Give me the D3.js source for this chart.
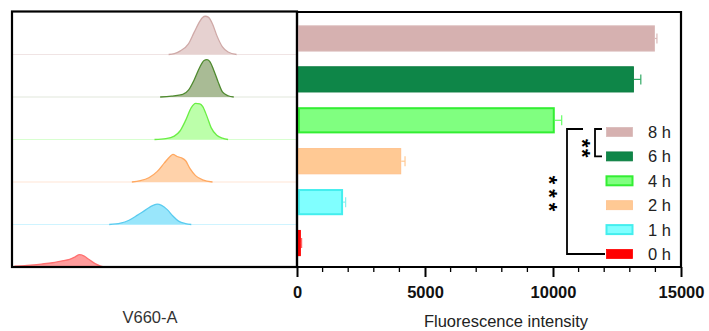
<!DOCTYPE html>
<html>
<head>
<meta charset="utf-8">
<script src="https://cdn.jsdelivr.net/npm/d3@7"></script>
<style>
  body { margin: 0; background: #fff; }
  svg { font-family: "Liberation Sans", Arial, sans-serif; }
</style>
</head>
<body>
<svg id="chart" width="709" height="331"></svg>
<script>
// time points, top to bottom
var groups = ["8 h", "6 h", "4 h", "2 h", "1 h", "0 h"];
var intensity = [13980, 13160, 10070, 4070, 1800, 150];
var errors = [80, 270, 270, 150, 100, 30];
var xTicks = [0, 5000, 10000, 15000];

// histogram outlines (channel units 0-100, height as % of row)
var hist8 = [[55,0],[57,2],[59,8],[62,25],[64,52],[66,78],[67,87],[68,90],[69,88],[70.5,72],[72,45],[74,18],[76,6],[79,0]];
var hist6 = [[52,0],[56,2],[60,6],[62,16],[64,40],[66,70],[67.5,86],[68.5,88],[69.5,84],[71,62],[72.5,35],[74,12],[76,3],[78,0]];
var hist4 = [[50,0],[54,2],[57,8],[59,20],[61,45],[63,75],[64.5,85],[66,84],[67,78],[68.5,55],[70,28],[72,10],[74,3],[76,0]];
var hist2 = [[42,0],[45,3],[48,10],[51,25],[53.5,45],[55.5,60],[56.5,65],[58,60],[59.5,57],[61,50],[62.5,32],[64.5,15],[67,5],[70.5,0]];
var hist1 = [[34,0],[38,3],[41,10],[44,22],[47,35],[49.5,45],[51,48],[52.5,45],[54.5,35],[56.5,20],[58.5,8],[61,2],[63,0]];
var hist0 = [[0.5,2],[5,4],[10,7],[14,10],[17,14],[20,18],[22,24],[23.5,29],[25,26],[27,17],[29,8],[31,2],[32,0]];
var histograms = [hist8, hist6, hist4, hist2, hist1, hist0];

var barFill   = ["#d6b1b0", "#0e8648", "#80ff80", "#ffc994", "#80ffff", "#ff0000"];
var barStroke = ["#d9b9b8", "#0b7c40", "#33ee33", "#ffc08a", "#44eeee", "#ff0000"];
var errColor  = ["#d9b9b8", "#33aa66", "#66ff66", "#ffc994", "#88f0f0", "#ff6666"];
var histFill  = ["#e6d1d0", "#a9bb95", "#bcffaa", "#ffd2aa", "#99e6fb", "#ff9c9c"];
var histLine  = ["#cfa9a7", "#4f8a2f", "#6aee44", "#ffa860", "#5acbef", "#ff7070"];
var baseLine  = ["#f0e4e4", "#e2e8dc", "#d8ffd0", "#ffe6d6", "#cff4ff", "#fff"];

var svg = d3.select("#chart");

// ---- left panel: histograms
var left = {x0: 13, x1: 296, y0: 12, y1: 267};
var hx = d3.scaleLinear().domain([0, 100]).range([left.x0, left.x1]);
var rowY = d3.scaleBand().domain(groups).range([left.y0, left.y1]);
var rowH = rowY.bandwidth();

groups.forEach(function (g, i) {
    var base = rowY(g) + rowH;
    var hy = d3.scaleLinear().domain([0, 100]).range([base, base - rowH]);
    if (i < groups.length - 1) {
        svg.append("line")
            .attr("x1", left.x0).attr("x2", left.x1)
            .attr("y1", base).attr("y2", base)
            .attr("stroke", baseLine[i]).attr("stroke-width", 1.2);
    }
    var area = d3.area()
        .x(d => hx(d[0]))
        .y0(base)
        .y1(d => hy(d[1]))
        .curve(d3.curveMonotoneX);
    svg.append("path")
        .datum(histograms[i])
        .attr("d", area)
        .attr("fill", histFill[i]);
    var line = d3.line()
        .x(d => hx(d[0]))
        .y(d => hy(d[1]))
        .curve(d3.curveMonotoneX);
    svg.append("path")
        .datum(histograms[i])
        .attr("d", line)
        .attr("fill", "none")
        .attr("stroke", histLine[i])
        .attr("stroke-width", 1.3);
});

svg.append("rect")
    .attr("x", 12).attr("y", 11.5)
    .attr("width", 285).attr("height", 255.5)
    .attr("fill", "none").attr("stroke", "#000").attr("stroke-width", 2.2);

svg.append("text")
    .attr("x", 150).attr("y", 323)
    .attr("text-anchor", "middle")
    .attr("font-size", 16.5).attr("fill", "#333")
    .text("V660-A");

// ---- right panel: bars
var right = {x0: 297, x1: 681, y0: 12, y1: 267};
var xs = d3.scaleLinear().domain([0, 15000]).range([right.x0, right.x1]);
var ys = d3.scaleBand().domain(groups)
    .range([18, 263.5]).paddingInner(0.36).paddingOuter(0.18);

groups.forEach(function (g, i) {
    var y = ys(g), h = ys.bandwidth();
    var sw = (i == 2 || i == 4) ? 2 : 1;
    svg.append("rect")
        .attr("x", xs(0) + sw / 2 + 1)
        .attr("y", y + sw / 2)
        .attr("width", xs(intensity[i]) - xs(0) - sw - 1)
        .attr("height", h - sw)
        .attr("fill", barFill[i])
        .attr("stroke", barStroke[i])
        .attr("stroke-width", sw);
    // error bar (right side only)
    var ex = xs(intensity[i] + errors[i]);
    var cy = y + h / 2;
    svg.append("line")
        .attr("x1", xs(intensity[i])).attr("x2", ex)
        .attr("y1", cy).attr("y2", cy)
        .attr("stroke", errColor[i]).attr("stroke-width", 1.2);
    svg.append("line")
        .attr("x1", ex).attr("x2", ex)
        .attr("y1", cy - 5).attr("y2", cy + 5)
        .attr("stroke", errColor[i]).attr("stroke-width", 1.2);
});

// frame
svg.append("path")
    .attr("d", `M${right.x0},${right.y1}V${right.y0}H${right.x1}V${right.y1}H${right.x0}`)
    .attr("fill", "none").attr("stroke", "#000").attr("stroke-width", 2.2);
svg.append("line")
    .attr("x1", right.x0 - 7).attr("x2", right.x0)
    .attr("y1", right.y1).attr("y2", right.y1)
    .attr("stroke", "#000").attr("stroke-width", 2);

// x axis
var xAxis = d3.axisBottom(xs).tickValues(xTicks).tickSize(10).tickFormat(d3.format("d"));
var ax = svg.append("g")
    .attr("transform", `translate(0,${right.y1})`)
    .call(xAxis);
ax.select(".domain").remove();
ax.selectAll(".tick line").attr("stroke-width", 2);
ax.selectAll(".tick text")
    .attr("font-size", 16.5).attr("font-weight", "bold")
    .attr("font-family", "Liberation Sans, Arial, sans-serif")
    .attr("fill", "#111").attr("dy", "1.1em");
var minor = d3.range(1000, 15000, 1000).filter(d => d % 5000 != 0);
svg.append("g").selectAll("line").data(minor).enter().append("line")
    .attr("x1", d => xs(d)).attr("x2", d => xs(d))
    .attr("y1", right.y1).attr("y2", right.y1 + 5)
    .attr("stroke", "#000").attr("stroke-width", 1.3);

svg.append("text")
    .attr("x", 506).attr("y", 327)
    .attr("text-anchor", "middle")
    .attr("font-size", 16.5).attr("fill", "#222")
    .text("Fluorescence intensity");

// legend
var legY = d3.scalePoint().domain(groups).range([132, 254]);
var leg = svg.append("g");
groups.forEach(function (g, i) {
    var sw = (i == 2 || i == 4) ? 2 : 0.8;
    leg.append("rect")
        .attr("x", 606.5).attr("y", legY(g) - 4.5)
        .attr("width", 26).attr("height", 9)
        .attr("fill", barFill[i]).attr("stroke", barStroke[i]).attr("stroke-width", sw);
    leg.append("text")
        .attr("x", 648).attr("y", legY(g) + 6)
        .attr("font-size", 16.5).attr("fill", "#222")
        .text(g);
});

// significance brackets
var yTop = legY("8 h") - 3, y6 = legY("6 h"), y0 = legY("0 h");
svg.append("path")
    .attr("d", `M602,${yTop}H595V${y6}H602`)
    .attr("fill", "none").attr("stroke", "#000").attr("stroke-width", 1.8);
svg.append("path")
    .attr("d", `M583,${yTop}H567V${y0}H605`)
    .attr("fill", "none").attr("stroke", "#000").attr("stroke-width", 1.8);

// stacked asterisks drawn as one rotated label each
function stars(label, x, cy, spacing) {
    svg.append("text")
        .attr("transform", `translate(${x},${cy}) rotate(90)`)
        .attr("text-anchor", "middle")
        .attr("dy", "0.56em")
        .attr("font-size", 22).attr("font-weight", "bold")
        .attr("letter-spacing", spacing)
        .text(label);
}
stars("**", 587, 149, 1.5);
stars("***", 554, 196, 5);
</script>
</body>
</html>
